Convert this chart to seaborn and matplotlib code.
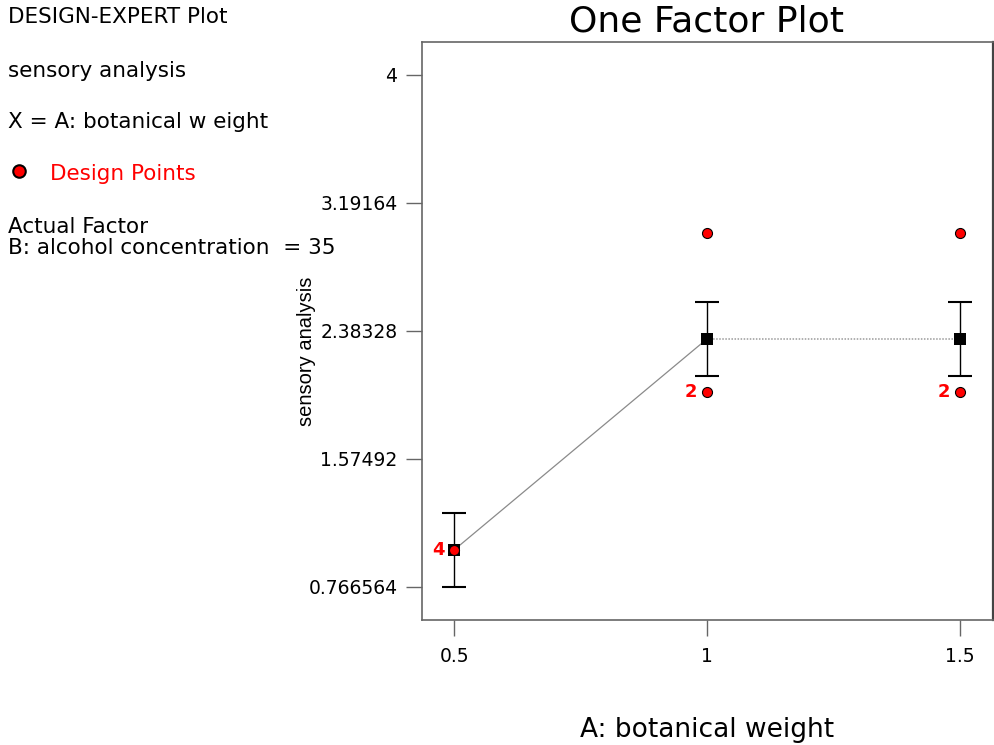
import pandas as pd
import seaborn as sns
from matplotlib import pyplot as plt

# factor levels and model means (A: botanical weight)
factor_levels = [0.5, 1.0, 1.5]
mean_response = [1.0, 2.33333, 2.33333]
lsd_half_width = [0.233436, 0.233436, 0.233436]

# observed design points
design_x = [0.5, 1.0, 1.0, 1.5, 1.5]
design_y = [1.0, 3.0, 2.0, 3.0, 2.0]
design_count = [4, 1, 2, 1, 2]

y_ticks = [0.766564, 1.57492, 2.38328, 3.19164, 4]
y_tick_labels = ['0.766564', '1.57492', '2.38328', '3.19164', '4']
x_ticks = [0.5, 1, 1.5]
x_tick_labels = ['0.5', '1', '1.5']

sns.set_theme(style="white")
plt.rcParams['font.family'] = ['DejaVu Sans']
plt.rcParams['text.color'] = 'black'
plt.rcParams['axes.labelcolor'] = 'black'
plt.rcParams['xtick.color'] = 'black'
plt.rcParams['ytick.color'] = 'black'

fig = plt.figure(figsize=(9.95, 7.45), dpi=100)
ax = fig.add_axes([0.4238, 0.1678, 0.5739, 0.7758])

means = pd.DataFrame({'A': factor_levels, 'y': mean_response})
design = pd.DataFrame({'A': design_x, 'y': design_y, 'n': design_count})

# mean line: solid between first two levels, dotted after
sns.lineplot(data=means.iloc[:2], x='A', y='y', color='#8a8a8a', linewidth=0.9, ax=ax)
sns.lineplot(data=means.iloc[1:], x='A', y='y', color='#9a9a9a', linewidth=1.1,
             linestyle=(0, (1, 1)), ax=ax)

# LSD bars
eb = ax.errorbar(factor_levels, mean_response, yerr=lsd_half_width, fmt='none',
                 ecolor='black', elinewidth=1.0, capsize=8.6, capthick=1.5, zorder=3)
for cap in eb[1]:
    cap.set_color('#777777')

# means as black squares
sns.scatterplot(data=means, x='A', y='y', marker='s', s=64, color='black',
                edgecolor='black', linewidth=0, zorder=4, ax=ax)

# design points
sns.scatterplot(data=design, x='A', y='y', marker='o', s=52, color='red',
                edgecolor='black', linewidth=0.8, zorder=5, ax=ax)
for _, row in design.iterrows():
    if row['n'] > 1:
        ax.annotate(f"{int(row['n'])}", (row['A'], row['y']), xytext=(-7, 0),
                    textcoords='offset points', ha='right', va='center',
                    color='red', fontsize=13, fontweight='bold', zorder=6)

ax.set_xlim(0.436, 1.5646)
ax.set_ylim(0.558, 4.208)
ax.set_xticks(x_ticks)
ax.set_xticklabels(x_tick_labels, fontsize=13.5)
ax.set_yticks(y_ticks)
ax.set_yticklabels(y_tick_labels, fontsize=13.5)
ax.tick_params(axis='both', bottom=True, left=True, direction='out', length=11.5,
               width=1, color='#666666', pad=6)
ax.tick_params(axis='x', pad=8)

for side in ['left', 'bottom', 'top']:
    ax.spines[side].set_color('#666666')
    ax.spines[side].set_linewidth(1.2)
ax.spines['right'].set_color('#444444')
ax.spines['right'].set_linewidth(1.6)

fig.text(707 / 995, 1 - 32 / 745, 'One Factor Plot', fontsize=26, ha='center', va='baseline')
fig.text(707 / 995, 1 - 737 / 745, 'A: botanical weight', fontsize=19, ha='center', va='baseline')
ax.set_xlabel('')
ax.set_ylabel('sensory analysis', fontsize=14.5, family=['Liberation Sans', 'DejaVu Sans'])
ax.yaxis.set_label_coords(-0.185, 0.465)

# side annotation block
fs = 15.5
fig.text(0.008, 1 - 23 / 745, 'DESIGN-EXPERT Plot', fontsize=fs, va='baseline')
fig.text(0.008, 1 - 77 / 745, 'sensory analysis', fontsize=fs, va='baseline')
fig.text(0.008, 1 - 128 / 745, 'X = A: botanical w eight', fontsize=fs, va='baseline')
fig.add_artist(plt.Line2D([19 / 995], [1 - 171 / 745], marker='o', markersize=9,
                          markerfacecolor='red', markeredgecolor='black',
                          markeredgewidth=1.5, linestyle='none'))
fig.text(50 / 995, 1 - 180 / 745, 'Design Points', fontsize=fs, va='baseline', color='red')
fig.text(0.008, 1 - 233 / 745, 'Actual Factor', fontsize=fs, va='baseline')
fig.text(0.008, 1 - 254 / 745, 'B: alcohol concentration  = 35', fontsize=fs, va='baseline')

fig.savefig('out.png', dpi=100)
